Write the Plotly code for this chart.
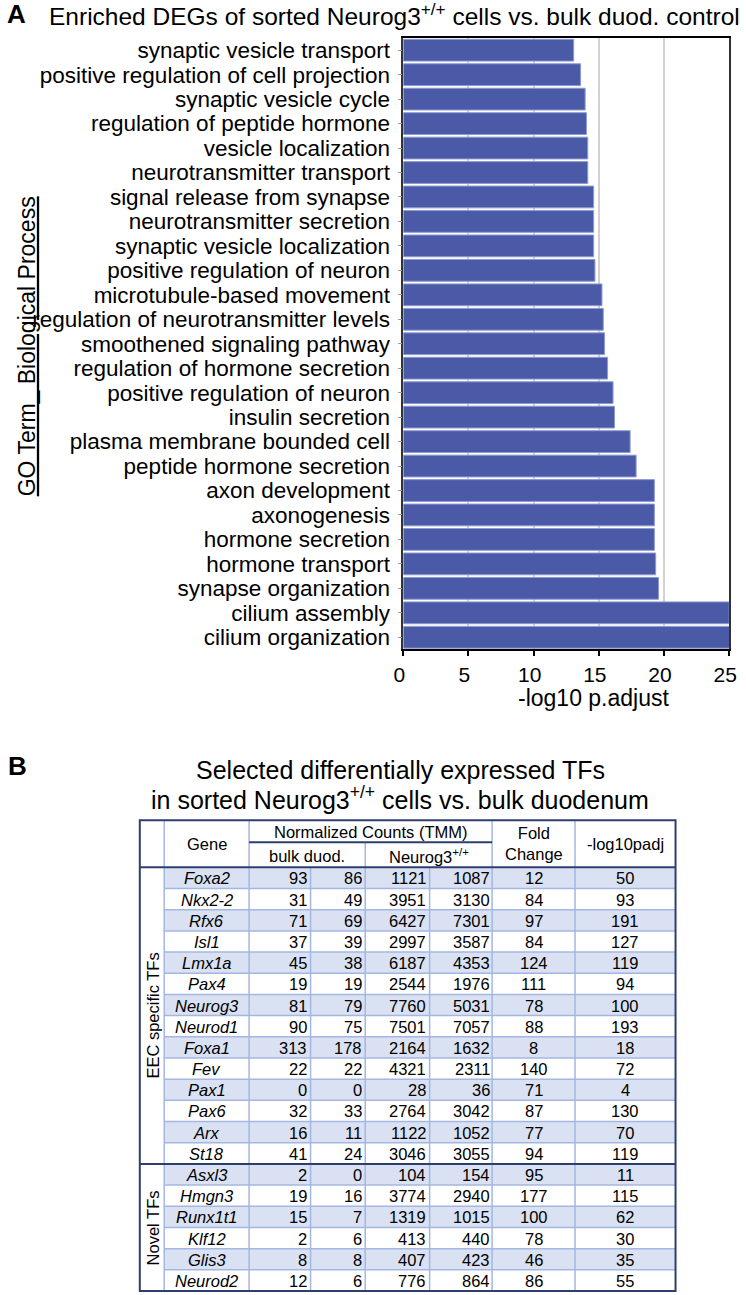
import plotly.graph_objects as go

W, H = 746, 1295
FONT = "Liberation Sans, Arial, Helvetica, sans-serif"

# ---------------- Panel A data ----------------
go_terms = [
    "synaptic vesicle transport",
    "positive regulation of cell projection",
    "synaptic vesicle cycle",
    "regulation of peptide hormone",
    "vesicle localization",
    "neurotransmitter transport",
    "signal release from synapse",
    "neurotransmitter secretion",
    "synaptic vesicle localization",
    "positive regulation of neuron",
    "microtubule-based movement",
    "regulation of neurotransmitter levels",
    "smoothened signaling pathway",
    "regulation of hormone secretion",
    "positive regulation of neuron",
    "insulin secretion",
    "plasma membrane bounded cell",
    "peptide hormone secretion",
    "axon development",
    "axonogenesis",
    "hormone secretion",
    "hormone transport",
    "synapse organization",
    "cilium assembly",
    "cilium organization",
]
neg_log10_padj = [13.07, 13.6, 13.95, 14.05, 14.15, 14.15, 14.6, 14.6, 14.6, 14.7,
                  15.24, 15.34, 15.44, 15.67, 16.09, 16.2, 17.4, 17.86, 19.26, 19.26,
                  19.26, 19.36, 19.58, 25.0, 25.1]
x_ticks = [0, 5, 10, 15, 20, 25]

# ---------------- Panel B data ----------------
genes = ["Foxa2", "Nkx2-2", "Rfx6", "Isl1", "Lmx1a", "Pax4", "Neurog3", "Neurod1",
         "Foxa1", "Fev", "Pax1", "Pax6", "Arx", "St18",
         "Asxl3", "Hmgn3", "Runx1t1", "Klf12", "Glis3", "Neurod2"]
gene_groups = ["EEC specific TFs"] * 14 + ["Novel TFs"] * 6
bulk_rep1 = [93, 31, 71, 37, 45, 19, 81, 90, 313, 22, 0, 32, 16, 41, 2, 19, 15, 2, 8, 12]
bulk_rep2 = [86, 49, 69, 39, 38, 19, 79, 75, 178, 22, 0, 33, 11, 24, 0, 16, 7, 6, 8, 6]
neurog3_rep1 = [1121, 3951, 6427, 2997, 6187, 2544, 7760, 7501, 2164, 4321, 28, 2764,
                1122, 3046, 104, 3774, 1319, 413, 407, 776]
neurog3_rep2 = [1087, 3130, 7301, 3587, 4353, 1976, 5031, 7057, 1632, 2311, 36, 3042,
                1052, 3055, 154, 2940, 1015, 440, 423, 864]
fold_change = [12, 84, 97, 84, 124, 111, 78, 88, 8, 140, 71, 87, 77, 94,
               95, 177, 100, 78, 46, 86]
neg_log10_padj_tf = [50, 93, 191, 127, 119, 94, 100, 193, 18, 72, 4, 130, 70, 119,
                     11, 115, 62, 30, 35, 55]

# ---------------- styles / layout constants ----------------
BAR_COLOR = "#4a5aa7"
BAR_EDGE = "#8e9ad3"
NAVY = "#2e3f6e"
LIGHT_LINE = "#a4b7e2"
ROW_FILL = "#d9e1f3"


def px(x):
    return x / W


def py(y):
    return 1 - y / H


fig = go.Figure()

# ---------------- Panel A: bar chart ----------------
ypos = list(range(len(go_terms)))
fig.add_trace(go.Bar(
    x=neg_log10_padj, y=ypos, orientation="h",
    marker=dict(color=BAR_COLOR, line=dict(color=BAR_EDGE, width=1)),
    xaxis="x", yaxis="y", showlegend=False, hoverinfo="x+text",
    text=go_terms, textposition="none",
))

PLOT_L, PLOT_R, PLOT_T, PLOT_B = 403, 737, 38, 650

fig.update_layout(
    width=W, height=H,
    margin=dict(l=0, r=0, t=0, b=0),
    paper_bgcolor="white", plot_bgcolor="rgba(0,0,0,0)",
    font=dict(family=FONT, color="black"),
    bargap=0.11,
    xaxis=dict(
        domain=[px(PLOT_L), px(PLOT_R)], range=[0, 25],
        tickvals=x_ticks, ticks="outside", ticklen=5, tickwidth=1.5, tickcolor="black",
        tickfont=dict(size=21, family=FONT, color="black"),
        ticklabelshift=-4,
        showgrid=True, gridcolor="#d2d2d2", gridwidth=1.5,
        showline=True, linecolor="black", linewidth=2, mirror=True,
        zeroline=False, anchor="y",
    ),
    yaxis=dict(
        domain=[py(PLOT_B), py(PLOT_T)], range=[len(go_terms) - 0.5, -0.5],
        tickvals=ypos, ticktext=go_terms,
        ticks="outside", ticklen=4, tickwidth=1, tickcolor="#9a9a9a",
        tickfont=dict(size=22.5, family=FONT, color="black"),
        ticklabelstandoff=3,
        showline=True, linecolor="#333333", linewidth=1.5, mirror=True,
        showgrid=False, zeroline=False, anchor="x",
    ),
    xaxis2=dict(domain=[0, 1], range=[0, W], visible=False, anchor="y2", fixedrange=True),
    yaxis2=dict(domain=[0, py(790)], range=[H, 790], visible=False, anchor="x2", fixedrange=True),
)

annotations = []
shapes = []

# Panel labels and titles
annotations.append(dict(text="<b>A</b>", x=px(0), y=py(14), xref="paper", yref="paper",
                        xanchor="left", yanchor="middle", showarrow=False, xshift=-5,
                        font=dict(size=26, family=FONT)))
annotations.append(dict(text="Enriched DEGs of sorted Neurog3<sup>+/+</sup> cells vs. bulk duod. control",
                        x=px(38), y=py(15), xref="paper", yref="paper",
                        xanchor="left", yanchor="middle", showarrow=False,
                        font=dict(size=24.5, family=FONT)))
annotations.append(dict(text="GO Term_ Biological Process",
                        x=px(17), y=py(347), xref="paper", yref="paper",
                        xanchor="center", yanchor="middle", showarrow=False, textangle=-90,
                        font=dict(size=23, family=FONT, lineposition="under")))
annotations.append(dict(text="-log10 p.adjust",
                        x=px(598), y=py(699), xref="paper", yref="paper",
                        xanchor="center", yanchor="middle", showarrow=False,
                        font=dict(size=23, family=FONT)))
annotations.append(dict(text="<b>B</b>", x=px(0), y=py(767), xref="paper", yref="paper",
                        xanchor="left", yanchor="middle", showarrow=False, xshift=-4,
                        font=dict(size=26, family=FONT)))
annotations.append(dict(text="Selected differentially expressed TFs",
                        x=px(400), y=py(771), xref="paper", yref="paper",
                        xanchor="center", yanchor="middle", showarrow=False,
                        font=dict(size=25, family=FONT)))
annotations.append(dict(text="in sorted Neurog3<sup>+/+</sup> cells vs. bulk duodenum",
                        x=px(400), y=py(799), xref="paper", yref="paper",
                        xanchor="center", yanchor="middle", showarrow=False,
                        font=dict(size=25, family=FONT)))

# ---------------- Panel B: table ----------------
COL = [133, 158, 245, 308, 364, 430, 494, 579, 682]
T_TOP, T_MID, T_HDR = 821, 843, 868
T_BOT = 1292
n_rows = len(genes)
row_h = (T_BOT - T_HDR) / n_rows


def row_top(i):
    return T_HDR + i * row_h


def line(x0, y0, x1, y1, color, width):
    shapes.append(dict(type="line", xref="x2", yref="y2", x0=x0, y0=y0, x1=x1, y1=y1,
                       line=dict(color=color, width=width), layer="above"))


# row fills
for i in range(n_rows):
    if i % 2 == 0:
        shapes.append(dict(type="rect", xref="x2", yref="y2", x0=COL[1], x1=COL[-1],
                           y0=row_top(i), y1=row_top(i + 1), fillcolor=ROW_FILL,
                           line=dict(width=0), layer="below"))

# section split index
split = gene_groups.index("Novel TFs")

# light inner lines
for i in range(1, n_rows):
    if i != split:
        line(COL[1], row_top(i), COL[-1], row_top(i), LIGHT_LINE, 1.5)
for x in COL[1:-1]:
    line(x, T_HDR, x, T_BOT, LIGHT_LINE, 1.5)
for x in [COL[1], COL[2], COL[6], COL[7]]:
    line(x, T_TOP, x, T_HDR, LIGHT_LINE, 1.5)
line(COL[4], T_MID, COL[4], T_HDR, LIGHT_LINE, 1.5)

# navy lines
line(COL[2], T_MID, COL[6], T_MID, NAVY, 2)
line(COL[0], T_HDR, COL[-1], T_HDR, NAVY, 2)
line(COL[0], row_top(split), COL[-1], row_top(split), NAVY, 2)
shapes.append(dict(type="rect", xref="x2", yref="y2", x0=COL[0], x1=COL[-1],
                   y0=T_TOP, y1=T_BOT, line=dict(color=NAVY, width=2), layer="above"))

TF = 16.5


def cell_text(text, x, y, anchor="center", italic=False, angle=0):
    annotations.append(dict(text=text, x=x, y=y, xref="x2", yref="y2",
                            xanchor=anchor, yanchor="middle", showarrow=False,
                            textangle=angle,
                            font=dict(size=TF, family=FONT, color="black",
                                      style="italic" if italic else "normal")))


# header
cell_text("Gene", (COL[1] + COL[2]) / 2, (T_TOP + T_HDR) / 2)
cell_text("Normalized Counts (TMM)", (COL[2] + COL[6]) / 2, (T_TOP + T_MID) / 2 + 1)
cell_text("bulk duod.", (COL[2] + COL[4]) / 2, (T_MID + T_HDR) / 2 + 1)
cell_text("Neurog3<sup>+/+</sup>", (COL[4] + COL[6]) / 2, (T_MID + T_HDR) / 2 + 1)
cell_text("Fold<br>Change", (COL[6] + COL[7]) / 2, (T_TOP + T_HDR) / 2)
cell_text("-log10padj", (COL[7] + COL[8]) / 2, (T_TOP + T_HDR) / 2)

# body
for i, g in enumerate(genes):
    yc = row_top(i) + row_h / 2 + 0.5
    cell_text(g, (COL[1] + COL[2]) / 2, yc, italic=True)
    cell_text(str(bulk_rep1[i]), COL[3] - 1.5, yc, anchor="right")
    cell_text(str(bulk_rep2[i]), COL[4] - 1.5, yc, anchor="right")
    cell_text(str(neurog3_rep1[i]), COL[5] - 1.5, yc, anchor="right")
    cell_text(str(neurog3_rep2[i]), COL[6] - 0.5, yc, anchor="right")
    cell_text(str(fold_change[i]), (COL[6] + COL[7]) / 2, yc)
    cell_text(str(neg_log10_padj_tf[i]), (COL[7] + COL[8]) / 2, yc)

# group labels
groups_order = []
for g in gene_groups:
    if g not in groups_order:
        groups_order.append(g)
for g in groups_order:
    idx = [i for i, gg in enumerate(gene_groups) if gg == g]
    yc = (row_top(idx[0]) + row_top(idx[-1] + 1)) / 2
    cell_text(g, (COL[0] + COL[1]) / 2 + 1, yc, angle=-90)

# invisible anchor trace for table axes
fig.add_trace(go.Scatter(x=[0, W], y=[800, H], xaxis="x2", yaxis="y2", mode="markers",
                         marker=dict(opacity=0), showlegend=False, hoverinfo="skip"))

fig.update_layout(annotations=annotations, shapes=shapes)

fig.write_html("out.html", config={"displayModeBar": False},
               post_script="document.body.style.margin='0';"
                           "document.body.style.overflow='hidden';"
                           "document.documentElement.style.overflow='hidden';")
